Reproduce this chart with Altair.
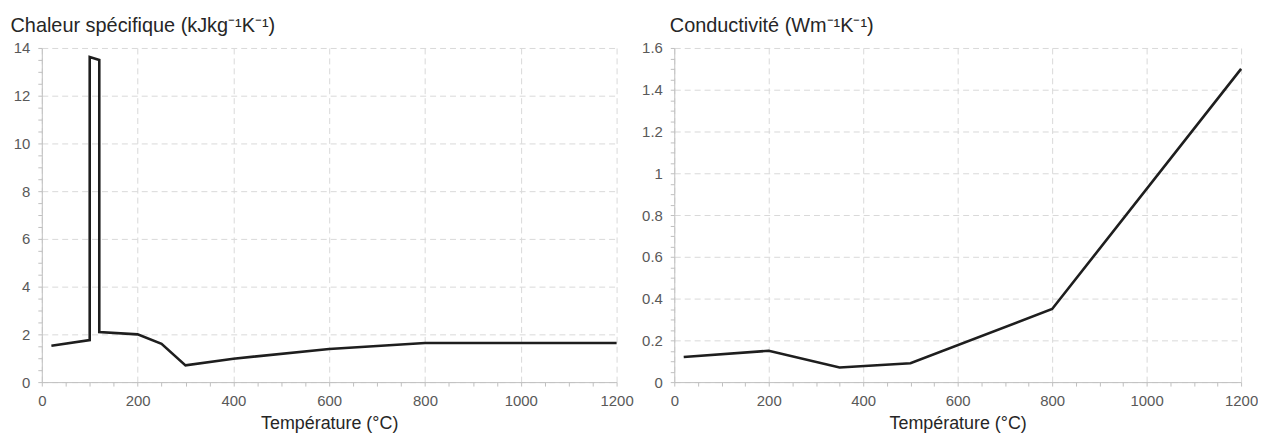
import altair as alt
import pandas as pd

# Chaleur spécifique
temp_cp = [20, 100, 100, 120, 120, 200, 250, 300, 400, 600, 800, 1200]
cp = [1.52, 1.76, 13.62, 13.5, 2.1, 2.0, 1.6, 0.7, 0.98, 1.39, 1.64, 1.64]

# Conductivité
temp_k = [20, 200, 350, 500, 800, 1200]
k = [0.12, 0.15, 0.07, 0.09, 0.35, 1.5]

x_ticks = list(range(0, 1201, 50))
cp_ticks = [i * 0.5 for i in range(29)]
k_ticks = [round(i * 0.05, 2) for i in range(33)]

FONT = "Liberation Sans"

df_cp = pd.DataFrame({"T": temp_cp, "v": cp, "o": range(len(cp))})
df_k = pd.DataFrame({"T": temp_k, "v": k, "o": range(len(k))})

x_test = "datum.value % 200 == 0"


def panel(df, yticks, ymax, ytest, title, title_x, width, fmt):
    xaxis = alt.Axis(
        values=x_ticks,
        format="d",
        labelFlush=False,
        labelExpr=f"{x_test} ? datum.label : ''",
        gridOpacity={"condition": {"test": x_test, "value": 1}, "value": 0},
        title="Température (°C)",
        titleFontSize=18,
        titleFontWeight="normal",
        titleColor="#262626",
        titleFont=FONT,
        titlePadding=6,
    )
    yaxis = alt.Axis(
        values=yticks,
        format=fmt,
        labelFlush=False,
        labelExpr=f"{ytest} ? datum.label : ''",
        gridOpacity={"condition": {"test": ytest, "value": 1}, "value": 0},
        title=title,
        titleAngle=0,
        titleAlign="left",
        titleBaseline="alphabetic",
        titleX=title_x,
        titleY=-17,
        titleFontSize=20,
        titleFontWeight="normal",
        titleColor="#262626",
        titleFont=FONT,
    )
    return (
        alt.Chart(df)
        .mark_line(color="#1e1e1e", strokeWidth=2.6, strokeJoin="miter")
        .encode(
            x=alt.X("T:Q", scale=alt.Scale(domain=[0, 1200], nice=False), axis=xaxis),
            y=alt.Y("v:Q", scale=alt.Scale(domain=[0, ymax], nice=False), axis=yaxis),
            order="o:Q",
        )
        .properties(width=width, height=336)
    )


left = panel(df_cp, cp_ticks, 14, "datum.value % 2 == 0",
             "Chaleur spécifique (kJkg⁻¹K⁻¹)", -32, 578, "~g")
right = panel(df_k, k_ticks, 1.6, "abs(round(datum.value * 20)) % 4 == 0",
              "Conductivité (Wm⁻¹K⁻¹)", -5, 570, "~g")

chart = (
    alt.hconcat(left, right, spacing=8)
    .properties(padding={"left": 2, "top": 6, "right": 0, "bottom": 0})
    .configure_view(stroke=None)
    .configure_axis(
        domainColor="#bfbfbf",
        tickColor="#bfbfbf",
        gridColor="#d9d9d9",
        gridDash=[6, 4],
        gridWidth=1,
        tickSize=4,
        labelFont=FONT,
        labelFontSize=15,
        labelColor="#595959",
        labelPadding=8,
    )
)

chart.save("out.html", embed_options={"renderer": "svg", "actions": False})
